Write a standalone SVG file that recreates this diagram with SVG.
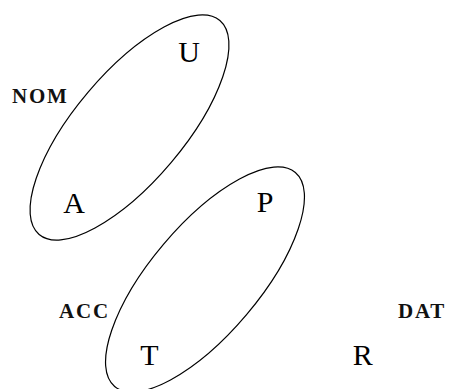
<svg xmlns="http://www.w3.org/2000/svg" width="449" height="389" viewBox="0 0 449 389">
<style>
.e{fill:none;stroke:#000;stroke-width:1.2}
.v{font-family:"Liberation Serif",serif;font-size:30px;fill:#000;text-anchor:middle}
.c{font-family:"Liberation Serif",serif;font-size:21px;font-weight:bold;letter-spacing:1.8px;fill:#111}
</style>
<rect width="449" height="389" fill="#fff"/>
<g id="connectors">
<ellipse id="nom-set" class="e" cx="129.5" cy="127.5" rx="140" ry="54.4" transform="rotate(-49.8 129.5 127.5)"/>
<ellipse id="acc-set" class="e" cx="205" cy="279.5" rx="140" ry="54.4" transform="rotate(-49.8 205 279.5)"/>
</g>
<g id="U"><text class="v" x="189" y="62">U</text></g>
<g id="A"><text class="v" x="74" y="213">A</text></g>
<g id="P"><text class="v" x="265" y="212">P</text></g>
<g id="T"><text class="v" x="149.5" y="365">T</text></g>
<g id="R"><text class="v" x="362.7" y="365">R</text></g>
<g id="NOM"><text class="c" x="12" y="103">NOM</text></g>
<g id="ACC"><text class="c" x="59" y="318">ACC</text></g>
<g id="DAT"><text class="c" x="398" y="318">DAT</text></g>
</svg>
